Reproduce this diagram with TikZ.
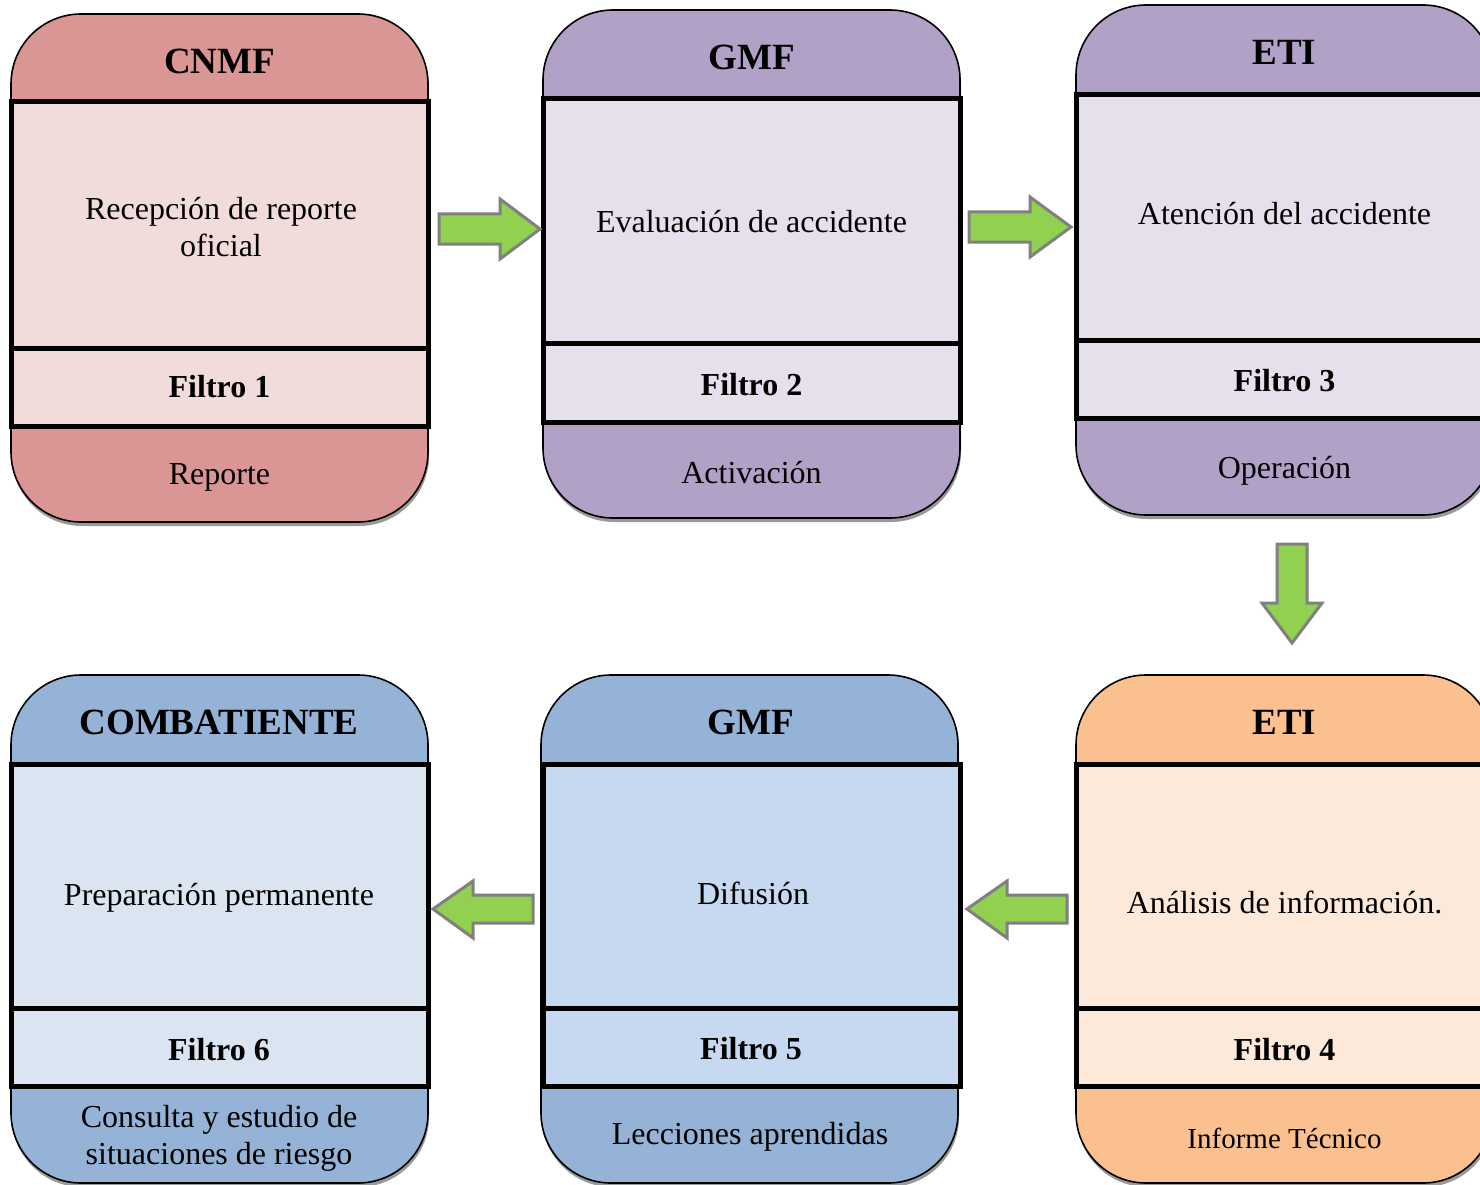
\documentclass[tikz,border=0pt]{standalone}
\usepackage{fontspec}
\setmainfont{Liberation Serif}
\usetikzlibrary{shadows}
\definecolor{redD}{HTML}{D99694}
\definecolor{redL}{HTML}{F2DCDB}
\definecolor{purD}{HTML}{B2A1C7}
\definecolor{purL}{HTML}{E5E0EC}
\definecolor{bluD}{HTML}{95B3D7}
\definecolor{bluL}{HTML}{DBE5F1}
\definecolor{bluM}{HTML}{C6D9F1}
\definecolor{ornD}{HTML}{FAC090}
\definecolor{ornL}{HTML}{FDE9D9}
\definecolor{arrG}{HTML}{92D050}
\definecolor{arrB}{HTML}{808080}
\tikzset{
 card/.style={draw=black, line width=1.6pt, rounded corners=70pt, minimum width=417pt,
   minimum height=508pt, anchor=north west, inner sep=0pt, outer sep=0pt,
   drop shadow={shadow xshift=1pt, shadow yshift=-4pt, fill=black, opacity=0.4}},
 band/.style={draw=black, line width=5pt, minimum width=417pt, anchor=north west,
   inner sep=0pt, outer sep=0pt},
 ttl/.style={font=\fontsize{37}{42}\selectfont\bfseries, anchor=base, inner sep=0pt},
 txt/.style={font=\fontsize{32}{37}\selectfont, anchor=base, align=center, inner sep=0pt},
 smtxt/.style={font=\fontsize{29}{34}\selectfont, anchor=base, inner sep=0pt},
 flt/.style={font=\fontsize{32}{37}\selectfont\bfseries, anchor=base, inner sep=0pt},
 blk/.style={fill=arrG, draw=arrB, line width=3pt, line join=miter},
}
\begin{document}
\begin{tikzpicture}[x=1pt, y=-1pt]
\useasboundingbox (0,0) rectangle (1480,1185);
\clip (0,0) rectangle (1480,1185);
\fill[white] (0,0) rectangle (1480,1185);

% Box 1 CNMF
\node[card, fill=redD] (c1) at (11,14) {};
\node[band, fill=redL, minimum height=246pt] (m1) at (11,102) {};
\node[band, fill=redL, minimum height=78pt] (f1) at (11,348) {};
\node[ttl] (t1) at (219.5,74) {CNMF};
\node[txt, anchor=center] (d1) at (221,227) {Recepción de reporte\\oficial};
\node[flt] (g1) at (219.5,397) {Filtro 1};
\node[txt] (e1) at (219.5,484) {Reporte};

% Box 2 GMF
\node[card, fill=purD] (c2) at (543,10) {};
\node[band, fill=purL, minimum height=244pt] (m2) at (543,99) {};
\node[band, fill=purL, minimum height=79pt] (f2) at (543,343) {};
\node[ttl] (t2) at (751.5,70) {GMF};
\node[txt] (d2) at (751.5,233) {Evaluación de accidente};
\node[flt] (g2) at (751.5,395) {Filtro 2};
\node[txt] (e2) at (751.5,483) {Activación};

% Box 3 ETI
\node[card, fill=purD, minimum height=510pt] (c3) at (1076,5) {};
\node[band, fill=purL, minimum height=245pt] (m3) at (1076,95) {};
\node[band, fill=purL, minimum height=78pt] (f3) at (1076,340) {};
\node[ttl] (t3) at (1284.5,65) {ETI};
\node[txt] (d3) at (1284.5,225) {Atención del accidente};
\node[flt] (g3) at (1284.5,391) {Filtro 3};
\node[txt] (e3) at (1284.5,478) {Operación};

% Box 4 COMBATIENTE
\node[card, fill=bluD] (c4) at (11,675) {};
\node[band, fill=bluL, minimum height=244pt] (m4) at (11,764) {};
\node[band, fill=bluL, minimum height=78pt] (f4) at (11,1008) {};
\node[ttl] (t4) at (219,734) {COMBATIENTE};
\node[txt] (d4) at (219,905) {Preparación permanente};
\node[flt] (g4) at (219,1060) {Filtro 6};
\node[txt, anchor=center] (e4) at (219,1138.5) {Consulta y estudio de\\situaciones de riesgo};

% Box 5 GMF
\node[card, fill=bluD] (c5) at (541,675) {};
\node[band, fill=bluM, minimum height=244pt] (m5) at (543,764) {};
\node[band, fill=bluM, minimum height=78pt] (f5) at (543,1008) {};
\node[ttl] (t5) at (751,734) {GMF};
\node[txt] (d5) at (753,904) {Difusión};
\node[flt] (g5) at (751,1059) {Filtro 5};
\node[txt] (e5) at (750,1144) {Lecciones aprendidas};

% Box 6 ETI
\node[card, fill=ornD] (c6) at (1076,675) {};
\node[band, fill=ornL, minimum height=244pt] (m6) at (1076,764) {};
\node[band, fill=ornL, minimum height=78pt] (f6) at (1076,1008) {};
\node[ttl] (t6) at (1284.5,734) {ETI};
\node[txt] (d6) at (1284.5,913) {Análisis de información.};
\node[flt] (g6) at (1284.5,1060) {Filtro 4};
\node[smtxt] (e6) at (1284.5,1148) {Informe Técnico};

% Block arrows
\draw[blk] (439,214) -- (500,214) -- (500,199) -- (540,229) -- (500,259) -- (500,244) -- (439,244) -- cycle;
\draw[blk] (969,212) -- (1030,212) -- (1030,197) -- (1071,227) -- (1030,257) -- (1030,242) -- (969,242) -- cycle;
\draw[blk] (1277,544) -- (1307,544) -- (1307,603) -- (1322,603) -- (1292,643) -- (1262,603) -- (1277,603) -- cycle;
\draw[blk] (533,895) -- (473,895) -- (473,881) -- (433,909) -- (473,938) -- (473,923) -- (533,923) -- cycle;
\draw[blk] (1067,895) -- (1007,895) -- (1007,881) -- (967,909) -- (1007,938) -- (1007,923) -- (1067,923) -- cycle;
\end{tikzpicture}
\end{document}
